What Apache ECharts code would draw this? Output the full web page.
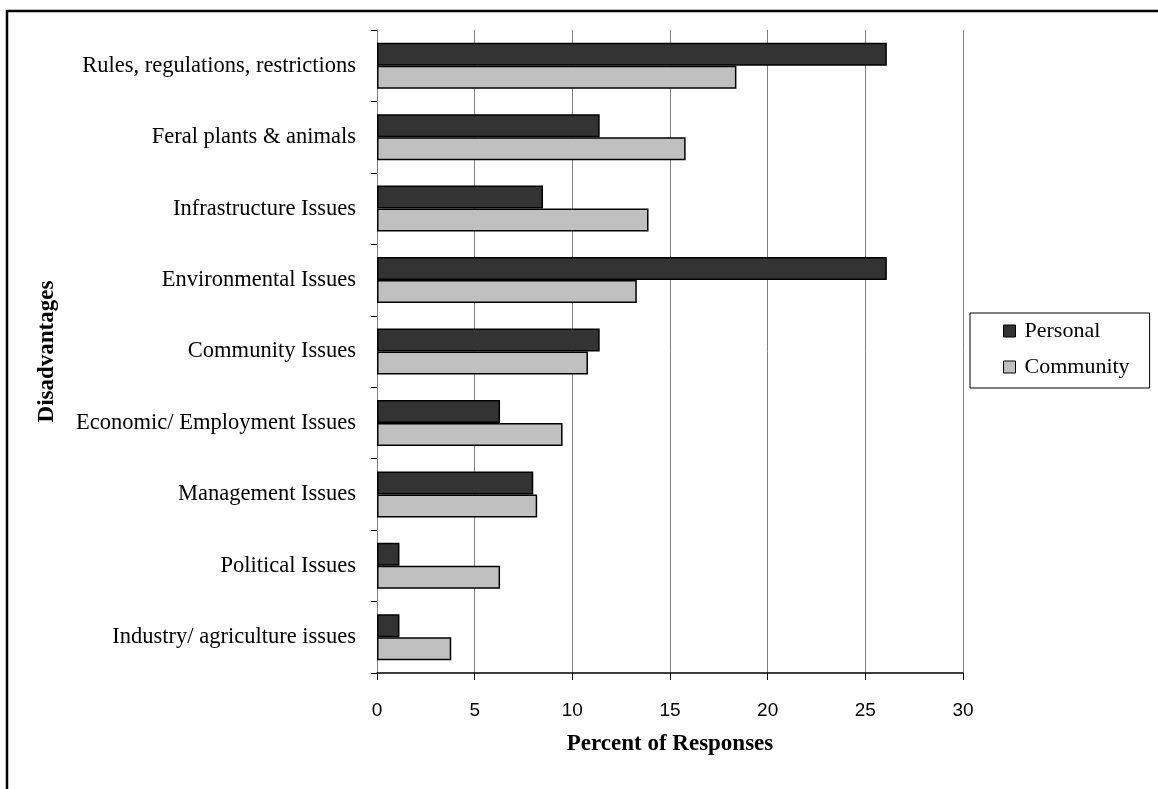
<!DOCTYPE html>
<html><head><meta charset="utf-8">
<script src="https://cdn.jsdelivr.net/npm/echarts@6/dist/echarts.min.js"></script>
<style>html,body{margin:0;padding:0;background:#fff}#c{width:1158px;height:789px}</style>
</head><body><div id="c"></div>
<script>
const categories = ["Rules, regulations, restrictions","Feral plants & animals","Infrastructure Issues","Environmental Issues","Community Issues","Economic/ Employment Issues","Management Issues","Political Issues","Industry/ agriculture issues"];
const personal = [26.1, 11.4, 8.5, 26.1, 11.4, 6.3, 8.0, 1.15, 1.15];
const community = [18.4, 15.8, 13.9, 13.3, 10.8, 9.5, 8.2, 6.3, 3.8];
const xTicks = [0, 5, 10, 15, 20, 25, 30];

const serif = '"Liberation Serif","Times New Roman",serif';
const chart = echarts.init(document.getElementById('c'));
chart.setOption({
  animation: false,
  grid: {left: 377, right: 195, top: 30, bottom: 116},
  graphic: [{type: 'polyline', shape: {points: [[7, 800], [7, 11], [1160, 11]]}, style: {fill: 'none', stroke: '#000', lineWidth: 2.5}, z: 0}],
  legend: {
    orient: 'vertical', left: 970, top: 313,
    data: ['Personal', 'Community'],
    icon: 'rect', itemWidth: 12, itemHeight: 12, itemGap: 14,
    borderColor: '#000', borderWidth: 1,
    padding: [7, 20, 10, 33],
    itemStyle: {borderColor: '#000', borderWidth: 1},
    textStyle: {fontFamily: serif, fontSize: 22, color: '#000', padding: [0, 0, 0, 4]}
  },
  xAxis: {
    type: 'value', min: xTicks[0], max: xTicks[xTicks.length - 1], interval: 5,
    axisLine: {show: true, lineStyle: {color: '#000', width: 1.5}},
    axisTick: {show: true, length: 7, lineStyle: {color: '#000'}},
    axisLabel: {margin: 28, fontFamily: '"Liberation Sans",Arial,sans-serif', fontSize: 19, color: '#000'},
    splitLine: {show: true, lineStyle: {color: '#808080', width: 1}},
    name: 'Percent of Responses', nameLocation: 'middle', nameGap: 60,
    nameTextStyle: {fontFamily: serif, fontSize: 23, fontWeight: 'bold', color: '#000'}
  },
  yAxis: {
    type: 'category', data: categories, inverse: true,
    axisLine: {show: true, lineStyle: {color: '#808080', width: 1}},
    axisTick: {show: true, length: 6, lineStyle: {color: '#000'}},
    axisLabel: {margin: 21, fontFamily: serif, fontSize: 22.5, color: '#000'},
    name: 'Disadvantages', nameLocation: 'middle', nameGap: 318, nameRotate: 90,
    nameTextStyle: {fontFamily: serif, fontSize: 23, fontWeight: 'bold', color: '#000'}
  },
  series: [
    {name: 'Personal', type: 'bar', data: personal, barWidth: 23, barGap: '0%',
     itemStyle: {color: '#333333', borderColor: '#000', borderWidth: 1.5}},
    {name: 'Community', type: 'bar', data: community, barWidth: 23, barGap: '0%',
     itemStyle: {color: '#c0c0c0', borderColor: '#000', borderWidth: 1.5}}
  ]
});
</script></body></html>
